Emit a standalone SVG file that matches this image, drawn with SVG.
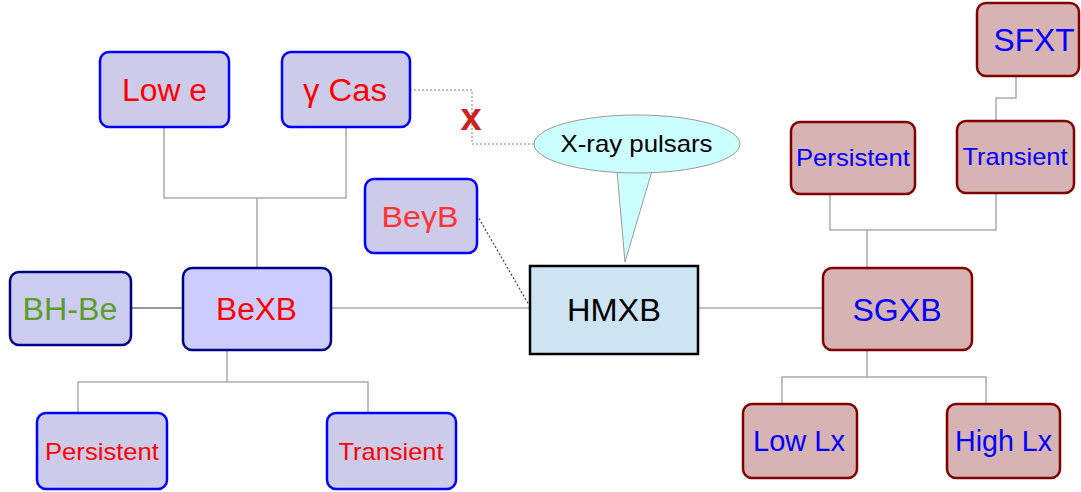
<svg xmlns="http://www.w3.org/2000/svg" width="1081" height="492" viewBox="0 0 1081 492">
<style>
text{font-family:"Liberation Sans",Arial,sans-serif;text-anchor:middle}
.b{fill:#ccccea;stroke:#0000ff;stroke-width:2.5}
.bd{fill:#ccccff;stroke:#000080;stroke-width:2.5}
.r{fill:#d8b3b3;stroke:#800000;stroke-width:2.5}
.red{fill:#ff0000}
.blue{fill:#0000ff}
.c{fill:none;stroke:#aaaaaa;stroke-width:1.5}
</style>
<g id="connectors">
<path class="c" d="M164,127V198H346V127M257,198V268"/>
<path class="c" d="M227,350V382H78V413M227,382H368V413"/>
<path class="c" d="M131,308H183" style="stroke:#777"/>
<path class="c" d="M331,308H530"/>
<path class="c" d="M698,308H824"/>
<path class="c" d="M830,194V230H996V193M867,230V268"/>
<path class="c" d="M1016,76V98H996V121"/>
<path class="c" d="M867,350V377H782V404M867,377H986V404"/>
<path d="M410,90H472V144H536" fill="none" stroke="#aaaaaa" stroke-width="1.5" stroke-dasharray="2,2"/>
<path d="M477,215L529,305" fill="none" stroke="#444" stroke-width="1.2" stroke-dasharray="2,2"/>
<text x="471" y="130" style="font-size:38px;font-weight:bold;fill:#cc2222">x</text>
</g>
<g id="lowe"><rect class="b" x="100" y="52" width="129" height="75" rx="9"/><text class="red" x="164.5" y="101" font-size="31" textLength="85" lengthAdjust="spacingAndGlyphs">Low e</text></g>
<g id="gcas"><rect class="b" x="282" y="52" width="128" height="75" rx="9"/><text class="red" x="345" y="101" font-size="31" textLength="84" lengthAdjust="spacingAndGlyphs">γ Cas</text></g>
<g id="beyb"><rect class="b" x="365" y="179" width="112" height="74" rx="9"/><text x="420" y="227" font-size="30" fill="#ff3333" textLength="77" lengthAdjust="spacingAndGlyphs">BeγB</text></g>
<g id="bhbe"><rect class="bd" x="10" y="272" width="121" height="73" rx="9" style="fill:#ccccf0"/><text x="70" y="320" font-size="31" fill="#5a9e2a" textLength="95" lengthAdjust="spacingAndGlyphs">BH-Be</text></g>
<g id="bexb"><rect class="bd" x="183" y="268" width="148" height="82" rx="9"/><text class="red" x="256.5" y="320" font-size="31" textLength="81" lengthAdjust="spacingAndGlyphs">BeXB</text></g>
<g id="pers-l"><rect class="b" x="37" y="413" width="130" height="76" rx="9"/><text class="red" x="102" y="460" font-size="24" textLength="114" lengthAdjust="spacingAndGlyphs">Persistent</text></g>
<g id="trans-l"><rect class="b" x="327" y="413" width="129" height="76" rx="9"/><text class="red" x="391" y="460" font-size="24" textLength="105" lengthAdjust="spacingAndGlyphs">Transient</text></g>
<g id="pulsars">
<path d="M617,171L625,262L652,171Z" fill="#ccffff" stroke="#999" stroke-width="1"/>
<ellipse cx="637" cy="144" rx="103" ry="29" fill="#ccffff" stroke="#999" stroke-width="1"/>
<path d="M618,170L652,170" stroke="#ccffff" stroke-width="3"/>
<text x="636.5" y="152" font-size="24" fill="#000" textLength="152" lengthAdjust="spacingAndGlyphs">X-ray pulsars</text>
</g>
<g id="hmxb"><rect x="530" y="266" width="168" height="88" fill="#cfe4f2" stroke="#000" stroke-width="2.5"/><text x="614" y="321" font-size="32" fill="#000" textLength="94" lengthAdjust="spacingAndGlyphs">HMXB</text></g>
<g id="sgxb"><rect class="r" x="823" y="268" width="149" height="82" rx="9"/><text class="blue" x="897" y="321" font-size="32" textLength="89" lengthAdjust="spacingAndGlyphs">SGXB</text></g>
<g id="pers-r"><rect class="r" x="791" y="122" width="124" height="72" rx="9"/><text class="blue" x="853" y="166" font-size="24" textLength="114" lengthAdjust="spacingAndGlyphs">Persistent</text></g>
<g id="trans-r"><rect class="r" x="957" y="121" width="117" height="72" rx="9"/><text class="blue" x="1015" y="165" font-size="24" textLength="105" lengthAdjust="spacingAndGlyphs">Transient</text></g>
<g id="sfxt"><rect class="r" x="977" y="3" width="102" height="73" rx="9"/><text class="blue" x="1034" y="51" font-size="31" textLength="81" lengthAdjust="spacingAndGlyphs">SFXT</text></g>
<g id="lowlx"><rect class="r" x="743" y="404" width="114" height="74" rx="9"/><text class="blue" x="799" y="451" font-size="29" textLength="92" lengthAdjust="spacingAndGlyphs">Low Lx</text></g>
<g id="highlx"><rect class="r" x="947" y="404" width="113" height="74" rx="9"/><text class="blue" x="1003.5" y="451" font-size="29" textLength="97" lengthAdjust="spacingAndGlyphs">High Lx</text></g>
</svg>
